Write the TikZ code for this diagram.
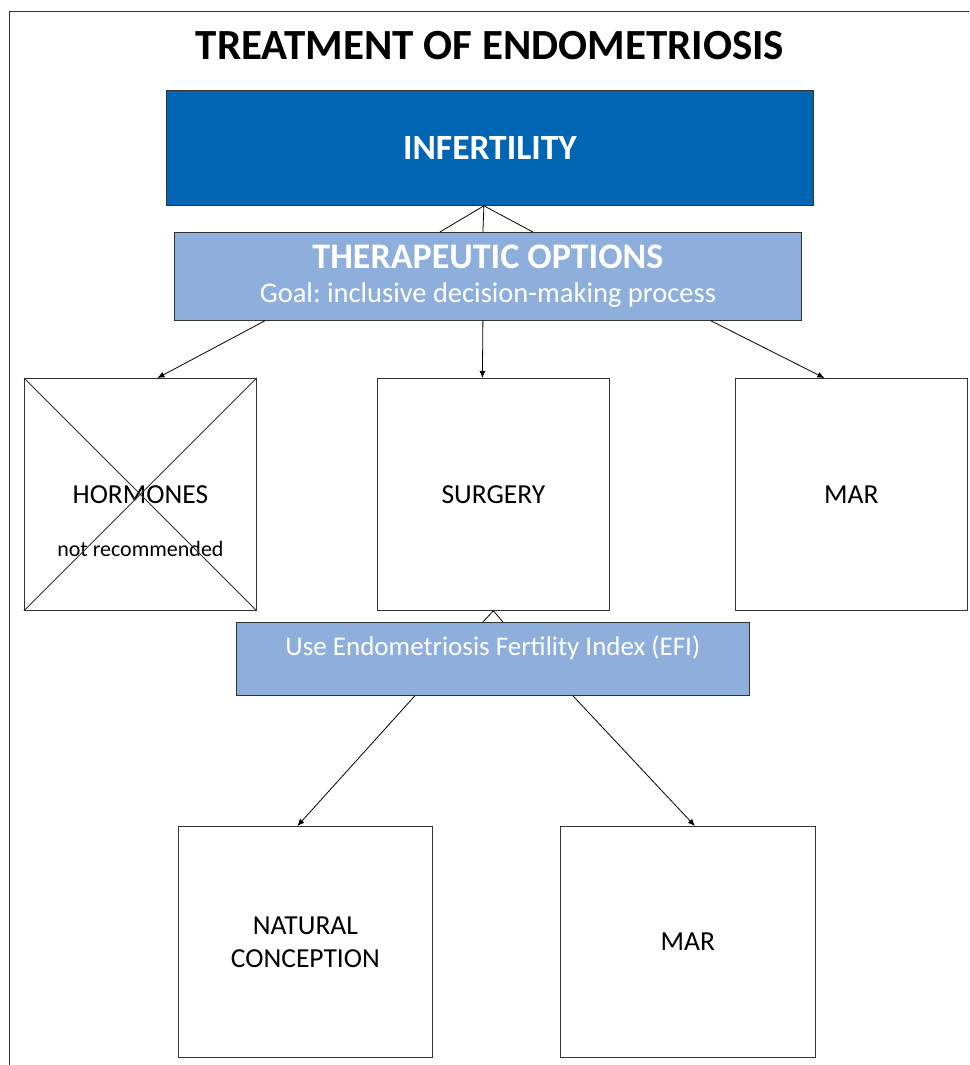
\documentclass[tikz,border=0pt]{standalone}
\usepackage{fontspec}
\setmainfont{Carlito}
\usetikzlibrary{arrows.meta,positioning}
\definecolor{infblue}{HTML}{0066B3}
\definecolor{optblue}{HTML}{8EAFDC}
\frenchspacing
\tikzset{darkbox/.style={draw=black!80, fill=infblue, text=white, inner sep=0pt, anchor=north west}, lightbox/.style={draw=black!80, fill=optblue, text=white, inner sep=0pt, anchor=north west}, choice/.style={draw=black!80, fill=white, inner sep=0pt, anchor=north west, minimum width=232pt, minimum height=232pt, align=center, font=\fontsize{27.5}{33}\selectfont}, arr/.style={-{Latex[length=7pt,width=6pt]}, black}}

\begin{document}
\begin{tikzpicture}[x=1pt,y=-1pt,line width=0.8pt]
    \useasboundingbox (0,0) rectangle (969,1065);
    \draw[black!80] (9,1065) -- (9,11) -- (969,11);
    \node[font=\fontsize{43}{46}\selectfont\bfseries] (title) at (490,46) {TREATMENT OF ENDOMETRIOSIS};
    \node[darkbox, minimum width=647pt, minimum height=115pt, font=\fontsize{35.5}{38}\selectfont\bfseries] (infert) at (166,90) {INFERTILITY};
    \node[lightbox, minimum width=627pt, minimum height=88pt, align=center, font=\fontsize{28.5}{34}\selectfont] (options) at (174,232) {{\fontsize{36}{34}\selectfont\bfseries THERAPEUTIC OPTIONS}\\Goal: inclusive decision-making process};
    \node[choice] (hormones) at (24,378) {HORMONES};
    \node[font=\fontsize{22}{24}\selectfont, below=43pt of hormones.center] (notrec) {not recommended};
    \node[choice] (surgery) at (377,378) {SURGERY};
    \node[choice] (mar) at (735,378) {MAR};
    \node[lightbox, minimum width=513pt, minimum height=73pt] (efi) at (236,622) {};
    \node[text=white, font=\fontsize{27}{30}\selectfont, below=10pt of efi.north] (efitext) {Use Endometriosis Fertility Index (EFI)};
    \node[choice, minimum width=254pt, minimum height=231pt] (natural) at (178,826) {NATURAL\\CONCEPTION};
    \node[choice, minimum width=255pt, minimum height=231pt] (mar2) at (560,826) {MAR};
    \draw[black!80] (hormones.north west) -- (hormones.south east);
    \draw[black!80] (hormones.north east) -- (hormones.south west);
    \draw ([xshift=-50pt]options.north -| infert.south) -- ([xshift=-6pt]infert.south) -- ([xshift=45pt]options.north);
    \draw ([xshift=-6pt]infert.south) -- ([xshift=-5pt]options.north);
    \draw[arr] ([xshift=-223pt]options.south) -- ([xshift=17pt]hormones.north);
    \draw[arr] ([xshift=-5pt]options.south) -- ([xshift=-11pt]surgery.north);
    \draw[arr] ([xshift=223pt]options.south) -- ([xshift=-27pt]mar.north);
    \draw ([xshift=-10pt]efi.north) -- (surgery.south) -- ([xshift=10pt]efi.north);
    \draw[arr] ([xshift=-78pt]efi.south) -- ([xshift=-8pt]natural.north);
    \draw[arr] ([xshift=80pt]efi.south) -- ([xshift=7pt]mar2.north);
\end{tikzpicture}
\end{document}
